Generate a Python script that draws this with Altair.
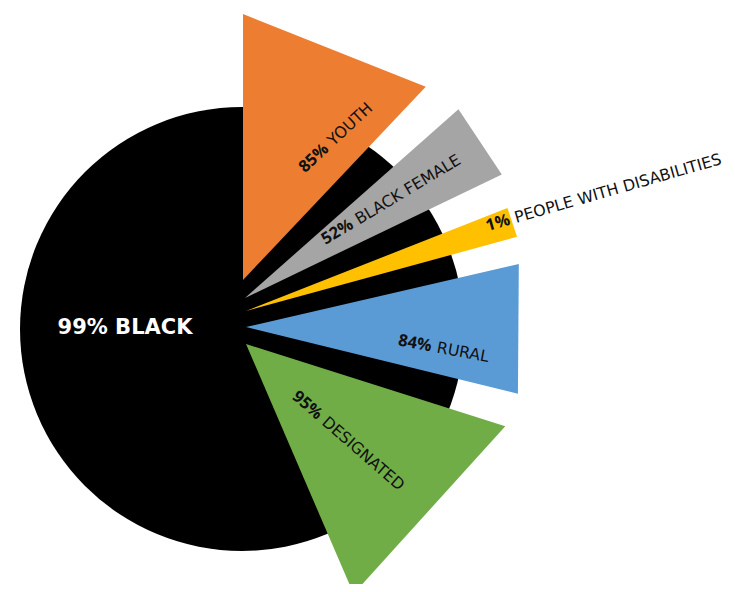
import altair as alt
import numpy as np
import pandas as pd

# ---- data ----
labels = ["YOUTH", "BLACK FEMALE", "PEOPLE WITH DISABILITIES", "RURAL", "DESIGNATED"]
values = [85, 52, 1, 84, 95]
colors = ["#ED7D31", "#A5A5A5", "#FFC000", "#5B9BD5", "#70AD47"]
# wedge geometry (degrees clockwise from north, length in px units)
start_deg = [0.0, 48.5, 68.5, 77.0, 107.6]
end_deg = [43.4, 64.3, 74.7, 103.8, 156.7]
lengths = [266, 285, 281, 280, 272]
apex_x = [243, 245, 246, 246, 246]
apex_y = [280, 298, 311, 327, 344]

base_label = "BLACK"
base_value = 99
circle_x = [242]
circle_y = [329]
circle_r = 222

# label anchors (junction between the number and the word) and angles
label_x = [328, 354, 512, 434, 322]
label_y = [145, 222, 219, 347, 418]
label_angle = [317, 329, 344, 10.5, 41]

# ---- tables ----
rows = []
for i, lab in enumerate(labels):
    ax, ay, L = apex_x[i], apex_y[i], lengths[i]
    pts = [(ax, ay)]
    for a in (start_deg[i], end_deg[i]):
        r = np.deg2rad(a)
        pts.append((ax + L * np.sin(r), ay - L * np.cos(r)))
    for k, (px, py) in enumerate(pts):
        rows.append({"label": lab, "x": px, "y": py, "k": k})
wedges = pd.DataFrame(rows)

lab_df = pd.DataFrame({
    "label": labels,
    "num": [f"{v}%" for v in values],
    "x": label_x,
    "y": label_y,
    "ang": label_angle,
})

circ = pd.DataFrame({"label": [base_label], "value": [base_value],
                     "x": circle_x, "y": circle_y,
                     "text": [f"{base_value}% {base_label}"]})

W, H = 719, 576
xs = alt.Scale(domain=[8, 8 + W], nice=False, zero=False)
ys = alt.Scale(domain=[8, 8 + H], nice=False, zero=False, reverse=True)
X = lambda f="x": alt.X(f"{f}:Q", scale=xs, axis=None)
Y = lambda f="y": alt.Y(f"{f}:Q", scale=ys, axis=None)

circle = alt.Chart(circ).mark_arc(color="#000000", radius=circle_r).encode(
    x=X(), y=Y(), theta=alt.Theta("value:Q", stack=True)
)

circle_text = alt.Chart(circ).mark_text(
    font="DejaVu Sans", fontSize=21, fontWeight="bold", color="white",
    baseline="middle", align="center", dx=-117, dy=-1
).encode(x=X(), y=Y(), text="text:N")

wedge = alt.Chart(wedges).mark_line(filled=True, strokeWidth=0).encode(
    x=X(), y=Y(), order="k:Q",
    detail="label:N",
    color=alt.Color("label:N", scale=alt.Scale(domain=labels, range=colors), legend=None),
)

nums = alt.Chart(lab_df).mark_text(
    font="Open Sans", fontSize=16.5, fontWeight="bold", color="#111111",
    baseline="middle", align="right", dx=-2.5
).encode(x=X(), y=Y(), text="num:N", angle=alt.Angle("ang:Q", scale=None))

words = alt.Chart(lab_df).mark_text(
    font="DejaVu Sans", fontSize=15.9, fontWeight="normal", color="#111111",
    baseline="middle", align="left", dx=3
).encode(x=X(), y=Y(), text="label:N", angle=alt.Angle("ang:Q", scale=None))

chart = alt.layer(circle, circle_text, wedge, nums, words).properties(
    width=W, height=H, padding=0, autosize=alt.AutoSizeParams(type="none")
).configure_view(stroke=None)

chart.save("out.html", embed_options={"renderer": "svg", "actions": False})
